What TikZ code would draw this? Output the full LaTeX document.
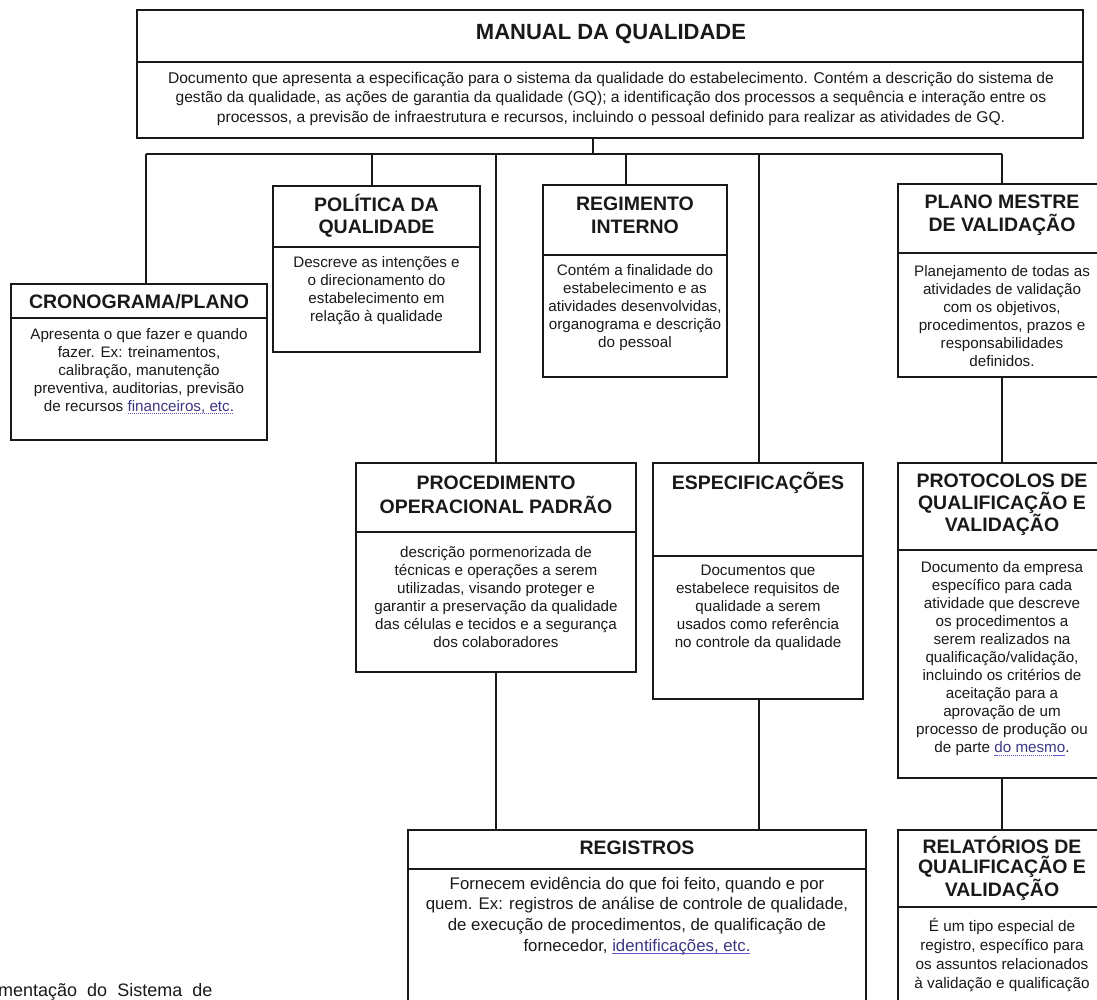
\documentclass[tikz,border=0pt]{standalone}
\usepackage{fontspec}
\setmainfont{Liberation Sans}
\definecolor{spell}{RGB}{95,85,200}
\definecolor{spelltxt}{RGB}{60,55,130}
\newcommand\squig[1]{\leavevmode\setbox0\hbox{\textcolor{spelltxt}{#1}}\rlap{\textcolor{spell}{\hbox to \wd0{\xleaders\hbox{\rule[-3pt]{1.3pt}{0.9pt}\kern0.7pt}\hfill}}}\box0}
\tikzset{
  box/.style={draw=black!90, line width=1.1pt, inner sep=0pt, fill=none},
  conn/.style={draw=black!90, line width=1.1pt},
  ttl/.style={align=center, inner sep=0pt, text=black!90, font=\fontsize{19.5}{23}\selectfont\bfseries},
  dsc/.style={align=center, inner sep=0pt, text=black!90, font=\fontsize{15.2}{18}\selectfont},
}
\begin{document}
\begin{tikzpicture}[x=1pt, y=-1pt]
\useasboundingbox (0,0) rectangle (1097,1000);
\clip (0,0) rectangle (1097,1000);
% boxes
\node[box, minimum width=946pt, minimum height=128pt] (manual) at (610,74) {};
\node[box, minimum width=256pt, minimum height=156pt] (cron) at (139,362) {};
\node[box, minimum width=207pt, minimum height=166pt] (pol) at (376.5,269) {};
\node[box, minimum width=184pt, minimum height=192pt] (reg) at (635,281) {};
\node[box, minimum width=208pt, minimum height=193pt] (plano) at (1002,280.5) {};
\node[box, minimum width=280pt, minimum height=209pt] (pop) at (496,567.5) {};
\node[box, minimum width=210pt, minimum height=236pt] (esp) at (758,581) {};
\node[box, minimum width=208pt, minimum height=315pt] (prot) at (1002,620.5) {};
\node[box, minimum width=458pt, minimum height=180pt] (regs) at (637,920) {};
\node[box, minimum width=208pt, minimum height=180pt] (rel) at (1002,920) {};
% dividers
\draw[conn] (manual.west |- 0,62) -- (manual.east |- 0,62);
\draw[conn] (cron.west |- 0,318) -- (cron.east |- 0,318);
\draw[conn] (pol.west |- 0,247) -- (pol.east |- 0,247);
\draw[conn] (reg.west |- 0,255) -- (reg.east |- 0,255);
\draw[conn] (plano.west |- 0,253) -- (plano.east |- 0,253);
\draw[conn] (pop.west |- 0,532) -- (pop.east |- 0,532);
\draw[conn] (esp.west |- 0,556) -- (esp.east |- 0,556);
\draw[conn] (prot.west |- 0,550) -- (prot.east |- 0,550);
\draw[conn] (regs.west |- 0,869) -- (regs.east |- 0,869);
\draw[conn] (rel.west |- 0,907) -- (rel.east |- 0,907);
% connectors
\coordinate (stem) at (593,154);
\coordinate (busL) at (146,154);
\coordinate (busR) at (1002,154);
\coordinate (dpol) at (372,154);
\coordinate (dpop) at (496,154);
\coordinate (dreg) at (626,154);
\coordinate (desp) at (759,154);
\draw[conn] (stem |- manual.south) -- (stem);
\draw[conn] (busL) -- (busR);
\draw[conn] (busL) -- (busL |- cron.north);
\draw[conn] (dpol) -- (dpol |- pol.north);
\draw[conn] (dpop) -- (dpop |- pop.north);
\draw[conn] (dreg) -- (dreg |- reg.north);
\draw[conn] (desp) -- (desp |- esp.north);
\draw[conn] (busR) -- (plano.north);
\draw[conn] (plano.south) -- (prot.north);
\draw[conn] (prot.south) -- (rel.north);
\draw[conn] (pop.south) -- (pop.south |- regs.north);
\draw[conn] (desp |- esp.south) -- (desp |- regs.north);
% texts
\node[ttl, font=\fontsize{22}{25}\selectfont\bfseries] (tmanual) at (611,34) {MANUAL DA QUALIDADE};
\node[dsc, font=\fontsize{15.6}{19.5}\selectfont] (dmanual) at (611,98.5) {Documento que apresenta a especificação para o sistema da qualidade do estabelecimento. Contém a descrição do sistema de\\gestão da qualidade, as ações de garantia da qualidade (GQ); a identificação dos processos a sequência e interação entre os\\processos, a previsão de infraestrutura e recursos, incluindo o pessoal definido para realizar as atividades de GQ.};
\node[ttl] (tcron) at (139,302) {CRONOGRAMA/PLANO};
\node[dsc] (dcron) at (139,371) {Apresenta o que fazer e quando\\fazer. Ex: treinamentos,\\calibração, manutenção\\preventiva, auditorias, previsão\\de recursos \squig{financeiros, etc.}};
\node[ttl, font=\fontsize{19.5}{22}\selectfont\bfseries] (tpol) at (376.5,216) {POLÍTICA DA\\QUALIDADE};
\node[dsc] (dpol) at (376.5,290.5) {Descreve as intenções e\\o direcionamento do\\estabelecimento em\\relação à qualidade};
\node[ttl] (treg) at (635,215.5) {REGIMENTO\\INTERNO};
\node[dsc] (dreg) at (635,307.5) {Contém a finalidade do\\estabelecimento e as\\atividades desenvolvidas,\\organograma e descrição\\do pessoal};
\node[ttl] (tplano) at (1002,215.5) {PLANO MESTRE\\DE VALIDAÇÃO};
\node[dsc] (dplano) at (1002,316.5) {Planejamento de todas as\\atividades de validação\\com os objetivos,\\procedimentos, prazos e\\responsabilidades\\definidos.};
\node[ttl, font=\fontsize{19.5}{24}\selectfont\bfseries] (tpop) at (496,495) {PROCEDIMENTO\\OPERACIONAL PADRÃO};
\node[dsc] (dpop) at (496,597) {descrição pormenorizada de\\técnicas e operações a serem\\utilizadas, visando proteger e\\garantir a preservação da qualidade\\das células e tecidos e a segurança\\dos colaboradores};
\node[ttl] (tesp) at (758,483) {ESPECIFICAÇÕES};
\node[dsc] (desp) at (758,608) {Documentos que\\estabelece requisitos de\\qualidade a serem\\usados como referência\\no controle da qualidade};
\node[ttl, font=\fontsize{19.5}{22}\selectfont\bfseries] (tprot) at (1002,505) {PROTOCOLOS DE\\QUALIFICAÇÃO E\\VALIDAÇÃO};
\node[dsc] (dprot) at (1002,658.5) {Documento da empresa\\específico para cada\\atividade que descreve\\os procedimentos a\\serem realizados na\\qualificação/validação,\\incluindo os critérios de\\aceitação para a\\aprovação de um\\processo de produção ou\\de parte \squig{do mesmo}.};
\node[ttl] (tregs) at (637,848) {REGISTROS};
\node[dsc, font=\fontsize{16.8}{20.7}\selectfont] (dregs) at (637,916) {Fornecem evidência do que foi feito, quando e por\\quem. Ex: registros de análise de controle de qualidade,\\de execução de procedimentos, de qualificação de\\fornecedor, \squig{identificações, etc.}};
\node[ttl, font=\fontsize{19.5}{20}\selectfont\bfseries] (trel) at (1002,868.5) {RELATÓRIOS DE\\QUALIFICAÇÃO E\\VALIDAÇÃO};
\node[dsc, font=\fontsize{15.3}{18.7}\selectfont] (drel) at (1002,955) {É um tipo especial de\\registro, específico para\\os assuntos relacionados\\à validação e qualificação};
\node[anchor=base west, inner sep=0pt, text=black!90, font=\fontsize{18}{20}\selectfont] (frag) at (-2,996) {mentação\hspace{10pt}do\hspace{10pt}Sistema\hspace{10pt}de};
\end{tikzpicture}
\end{document}
